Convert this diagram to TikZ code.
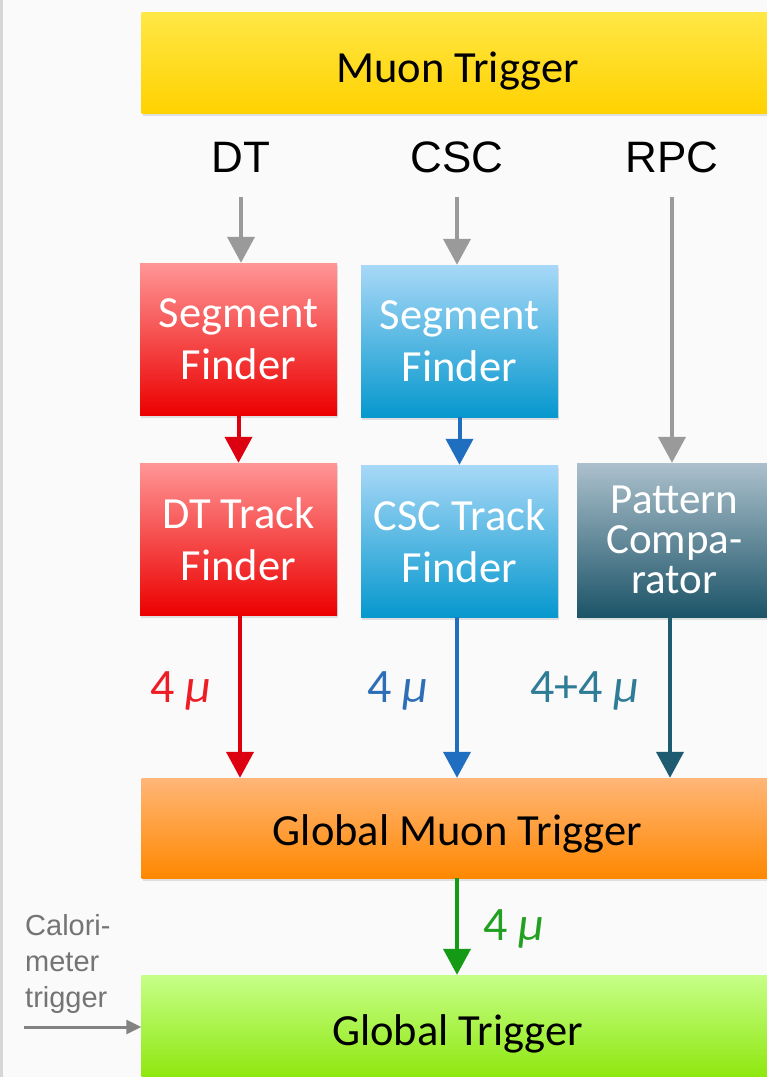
\documentclass[tikz,border=0pt]{standalone}
\usepackage{fontspec}
\setmainfont{Carlito}
\newfontfamily\arialfont{Liberation Sans}
\usetikzlibrary{arrows.meta,shadows,calc}

\definecolor{bg}{HTML}{FAFAFA}
\definecolor{edgegray}{HTML}{D6D6D6}
\definecolor{feedgray}{HTML}{9A9A9A}
\definecolor{dtred}{HTML}{DC0010}
\definecolor{cscblue}{HTML}{1F6EC0}
\definecolor{rpcteal}{HTML}{1E5A70}
\definecolor{gmtgreen}{HTML}{149A14}
\definecolor{lblred}{HTML}{EE1C24}
\definecolor{lbltealc}{HTML}{2F7C96}
\definecolor{lblblue}{HTML}{2E6EB6}
\definecolor{lblgreen}{HTML}{22A022}
\definecolor{calgray}{HTML}{747474}

\tikzset{
  box/.style={rectangle, inner sep=0pt, align=center, font=\fontsize{44.5}{52}\selectfont,
    drop shadow={opacity=0.22, shadow xshift=1pt, shadow yshift=-3pt}},
  barbox/.style={box, text=black, minimum width=632pt, text depth=0pt},
  smallbox/.style={box, text=white, minimum width=197pt, minimum height=152pt},
  detlabel/.style={font=\arialfont\fontsize{44}{44}\selectfont, text=black, anchor=base, inner sep=0pt},
  rate/.style={font=\fontsize{48}{48}\selectfont, anchor=base west, inner sep=0pt},
  flow/.style={line width=4pt, -{Triangle[width=27pt,length=26pt]}},
}

\begin{document}
\begin{tikzpicture}[x=1pt,y=-1pt]
  % canvas
  \fill[bg] (0,0) rectangle (767,1077);
  \useasboundingbox (0,0) rectangle (767,1077);
  \clip (0,0) rectangle (767,1077);
  \draw[edgegray, line width=2.5pt] (1.5,0) -- (1.5,1077);

  % wide bars
  \node[barbox, minimum height=101pt, text height=39pt, top color={rgb,255:red,255;green,231;blue,70},
        bottom color={rgb,255:red,255;green,210;blue,0}] (muon) at (457.5,62.5) {Muon Trigger};
  \node[barbox, minimum height=100pt, text height=34pt, top color={rgb,255:red,255;green,182;blue,120},
        bottom color={rgb,255:red,255;green,136;blue,0}] (gmt) at (457.5,828) {Global Muon Trigger};
  \node[barbox, minimum height=114pt, text height=26pt, top color={rgb,255:red,198;green,255;blue,136},
        bottom color={rgb,255:red,136;green,228;blue,0}] (gt) at (457.5,1032) {Global Trigger};

  % detector labels
  \node[detlabel] (dt)  at (241,172) {DT};
  \node[detlabel] (csc) at (457,172) {CSC};
  \node[detlabel] (rpc) at (672,172) {RPC};

  % per-detector boxes
  \node[smallbox, top color={rgb,255:red,255;green,150;blue,150}, middle color={rgb,255:red,255;green,40;blue,40},
        bottom color={rgb,255:red,236;green,0;blue,0}] (segR) at (238.5,339) {Segment\\Finder};
  \node[smallbox, top color={rgb,255:red,168;green,216;blue,247}, middle color={rgb,255:red,70;green,176;blue,226},
        bottom color={rgb,255:red,6;green,152;blue,206}] (segB) at (459.5,341) {Segment\\Finder};
  \node[smallbox, top color={rgb,255:red,255;green,150;blue,150}, middle color={rgb,255:red,255;green,40;blue,40},
        bottom color={rgb,255:red,236;green,0;blue,0}] (trkR) at (238.5,539) {DT Track\\Finder};
  \node[smallbox, top color={rgb,255:red,168;green,216;blue,247}, middle color={rgb,255:red,70;green,176;blue,226},
        bottom color={rgb,255:red,6;green,152;blue,206}] (trkB) at (459.5,541) {CSC Track\\Finder};
  \node[smallbox, minimum width=195pt, minimum height=154pt, font=\fontsize{43}{40}\selectfont,
        top color={rgb,255:red,172;green,192;blue,204}, middle color={rgb,255:red,90;green,130;blue,150},
        bottom color={rgb,255:red,28;green,84;blue,104}] (patt) at (674.5,540) {Pattern\\Compa-\\rator};

  % detector inputs
  \draw[flow, feedgray] ([yshift=-25pt]dt.base)  -- (dt.base  |- segR.north);
  \draw[flow, feedgray] ([yshift=-25pt]csc.base) -- (csc.base |- segB.north);
  \draw[flow, feedgray] ([yshift=-25pt]rpc.base) -- (rpc.base |- patt.north);

  % segment to track finders
  \draw[flow, dtred]   (segR.south) -- (trkR.north);
  \draw[flow, cscblue] (segB.south) -- (trkB.north);

  % candidates to the global muon trigger
  \draw[flow, dtred]   ([xshift=1.5pt]trkR.south) -- ([xshift=1.5pt]trkR.south |- gmt.north);
  \draw[flow, cscblue] ([xshift=-2.5pt]trkB.south) -- ([xshift=-2.5pt]trkB.south |- gmt.north);
  \draw[flow, rpcteal] ([xshift=-4.5pt]patt.south) -- ([xshift=-4.5pt]patt.south |- gmt.north);

  \node[rate, text=lblred]   (rR) at (150,702) {4 \textit{μ}};
  \node[rate, text=lblblue]  (rB) at (367,702) {4 \textit{μ}};
  \node[rate, text=lbltealc] (rT) at (530,702) {4+4 \textit{μ}};

  % global muon trigger to global trigger
  \draw[flow, gmtgreen] ([xshift=-0.5pt]gmt.south) -- ([xshift=-0.5pt]gt.north);
  \node[rate, text=lblgreen] (rG) at (483,940) {4 \textit{μ}};

  % calorimeter input
  \node[font=\arialfont\fontsize{29}{36}\selectfont, text=calgray, align=left, anchor=north west, inner sep=0pt]
        (cal) at (25,914) {Calori-\\meter\\trigger};
  \coordinate (calin) at (24,1027);
  \draw[feedgray!85!black, line width=3pt, -{Triangle[width=14pt,length=15pt]}] (calin) -- (calin -| gt.west);
\end{tikzpicture}
\end{document}
